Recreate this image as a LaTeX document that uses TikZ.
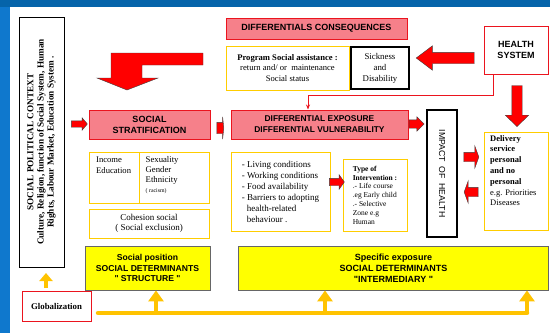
\documentclass[tikz,border=0pt]{standalone}
\usepackage{fontspec}
\setmainfont{Liberation Serif}
\newfontfamily\arialfont{Liberation Sans}
\usetikzlibrary{shapes.arrows,arrows.meta}

\definecolor{frametop}{RGB}{5,100,170}
\definecolor{frameleft}{RGB}{15,120,205}
\definecolor{boxpink}{RGB}{246,128,138}
\definecolor{boxred}{RGB}{235,20,30}
\definecolor{boxgold}{RGB}{255,205,0}
\definecolor{boxyellow}{RGB}{255,255,0}
\definecolor{arrowgold}{RGB}{255,195,0}

\begin{document}
\begin{tikzpicture}[x=1pt,y=-1pt,
    redbox/.style={draw=boxred,fill=boxpink,line width=1pt,inner sep=0pt,align=center,
        font=\arialfont\bfseries\fontsize{9}{11}\selectfont},
    goldbox/.style={draw=boxgold,fill=white,line width=1pt,inner sep=0pt,align=center},
    blackbox/.style={draw=black,fill=white,line width=2.5pt,inner sep=0pt,align=center},
    yellowbox/.style={draw=black!60,fill=boxyellow,line width=0.8pt,inner sep=0pt,align=center,
        font=\arialfont\bfseries\fontsize{8.6}{10.5}\selectfont},
    redarrow/.style={single arrow,draw=black!75,fill=red,line width=0.4pt,inner xsep=0pt,
        single arrow head indent=0pt},
    goldline/.style={draw=arrowgold,line width=4.5pt},
    goldarrow/.style={goldline,-{Triangle[width=15pt,length=11pt]}},
]
    \useasboundingbox (0,0) rectangle (550,333);
    % blue frame
    \fill[frameleft] (0,0) rectangle (10,333);
    \fill[frametop] (0,0) rectangle (550,7);

    \begin{scope}[every node/.style={minimum width=0pt,minimum height=0pt}]
        \node[draw=black,line width=0.6pt,minimum width=45pt,minimum height=250pt,inner sep=0pt] (ctx) at (41.5,142) {};
        \node[rotate=90,align=center,font=\bfseries\fontsize{9.2}{10.2}\selectfont] (ctxtxt) at (ctx.center)
            {SOCIAL POLITICAL CONTEXT\\Culture, Religion, function of Social System, Human\\Rights, Labour Market, Education System .};
        \node[draw=boxred,line width=1pt,minimum width=69pt,minimum height=30pt,font=\bfseries\fontsize{8.8}{10}\selectfont] (glob) at (56.5,306) {Globalization};

        \node[redbox,minimum width=181pt,minimum height=21pt] (conseq) at (316.5,28.5) {DIFFERENTIALS CONSEQUENCES};
        \node[goldbox,minimum width=123pt,minimum height=44pt,font=\fontsize{8.6}{10.3}\selectfont] (prog) at (287.5,68)
            {\textbf{Program Social assistance\ :}\\return and/ or\ \ maintenance\\Social status};
        \node[blackbox,minimum width=58pt,minimum height=42pt,font=\fontsize{8.8}{11}\selectfont] (sick) at (380,68) {Sickness\\and\\Disability};
        \node[draw=boxred,fill=white,line width=1pt,minimum width=64pt,minimum height=48pt,align=center,
            font=\arialfont\bfseries\fontsize{9}{11.5}\selectfont] (health) at (516,50) {HEALTH\\SYSTEM};

        \node[redbox,minimum width=121pt,minimum height=29pt] (strat) at (149.5,124.5) {SOCIAL\\STRATIFICATION};
        \node[redbox,minimum width=177pt,minimum height=29pt,font=\arialfont\bfseries\fontsize{8.4}{11}\selectfont] (diffexp) at (319.5,124.5)
            {DIFFERENTIAL EXPOSURE\\DIFFERENTIAL VULNERABILITY};
        \node[blackbox,minimum width=30pt,minimum height=127pt] (impact) at (442,173.5) {};
        \node[rotate=-90,font=\arialfont\fontsize{8.7}{10}\selectfont] (impacttxt) at (impact.center) {IMPACT\ \ OF\ \ HEALTH};

        \node[goldbox,minimum width=50pt,minimum height=51pt] (income) at (114,177.5) {};
        \node[align=left,inner sep=0pt,anchor=north west,font=\fontsize{8.6}{10.5}\selectfont] (incometxt) at (96,157)
            {Income\\Education};
        \node[goldbox,minimum width=70pt,minimum height=51pt] (sexuality) at (174,177.5) {};
        \node[align=left,inner sep=0pt,anchor=north west,font=\fontsize{8.7}{10}\selectfont] (sexualitytxt) at (145.5,156)
            {Sexuality\\Gender\\Ethnicity\\{\fontsize{5.8}{7}\selectfont( racism)}};
        \node[goldbox,minimum width=120pt,minimum height=29pt,font=\fontsize{9}{10.5}\selectfont] (cohesion) at (149,223.5) {Cohesion social\\( Social exclusion)};

        \node[goldbox,minimum width=99pt,minimum height=79pt,align=left,font=\fontsize{9}{11}\selectfont] (living) at (280.5,191.5)
            {- Living conditions\\- Working conditions\\- Food availability\\- Barriers to adopting\\\hspace*{5pt}health-related\\\hspace*{5pt}behaviour .};
        \node[goldbox,minimum width=64pt,minimum height=72pt,align=left,font=\fontsize{7.5}{8.8}\selectfont] (typeint) at (375,195)
            {\textbf{Type of}\\\textbf{Intervention :}\\.- Life course\\.eg Early child\\.- Selective\\Zone e.g\\Human};
        \node[goldbox,minimum width=64pt,minimum height=98pt] (delivery) at (516,181) {};
        \node[align=left,inner sep=0pt,anchor=north west,font=\fontsize{8.5}{10.8}\selectfont] (deliverytxt) at (490,135)
            {\textbf{Delivery}\\\textbf{service}\\\textbf{personal}\\\textbf{and no}\\\textbf{personal}\\e.g. Priorities\\Diseases};

        \node[yellowbox,minimum width=125pt,minimum height=44pt] (socpos) at (147.5,268)
            {Social position\\SOCIAL DETERMINANTS\\" STRUCTURE "};
        \node[yellowbox,minimum width=310pt,minimum height=44pt,font=\arialfont\bfseries\fontsize{9}{11}\selectfont] (specexp) at (393.5,268)
            {Specific exposure\\SOCIAL DETERMINANTS\\"INTERMEDIARY "};
    \end{scope}

    % block arrows
    \begin{scope}[every node/.style={redarrow}]
        \node[minimum height=58pt,inner ysep=5.5pt,single arrow head extend=6.5pt,single arrow tip angle=74,rotate=180] (hsarrow) at (449,58) {};
        \node[minimum height=41pt,inner ysep=5pt,single arrow head extend=6.5pt,single arrow tip angle=92,rotate=-90] (downarrow) at (517,103.5) {};
        \node[minimum height=16pt,inner ysep=3pt,single arrow head extend=3pt,single arrow tip angle=100] (ctxarrow) at (78,124) {};
        \node[minimum height=7pt,inner ysep=5.5pt,single arrow head extend=5.5pt,single arrow tip angle=168] (stratarrow) at (220,128) {};
        \node[minimum height=15pt,inner ysep=4pt,single arrow head extend=3pt,single arrow tip angle=90] (exparrow) at (414.5,124) {};
        \node[minimum height=15pt,inner ysep=4.5pt,single arrow head extend=6.5pt,single arrow tip angle=140] (imparrow) at (470.5,157) {};
        \node[minimum height=14pt,inner ysep=4.5pt,single arrow head extend=6.5pt,single arrow tip angle=140,rotate=180] (delarrow) at (472,192) {};
        \node[minimum height=15pt,inner ysep=3.5pt,single arrow head extend=3.5pt,single arrow tip angle=109] (livarrow) at (335.5,182) {};
    \end{scope}

    % bent arrow to the stratification
    \draw[fill=red,draw=black!75,line width=0.4pt] (203,53) -- (203,65) -- (142,65) -- (142,78) -- (158,78)
        -- (127,90) -- (97,78) -- (111,78) -- (111,53) -- cycle;

    % thin line from the health system
    \coordinate (hsA) at (493,95);
    \coordinate (hsB) at (308,95);
    \draw[boxred,line width=1pt,-{Stealth[length=5pt,width=4pt]}] (health.south -| hsA) -- (hsA) -- (hsB) -- (diffexp.north -| hsB);

    % globalization
    \coordinate (gA) at (46,288);
    \coordinate (gB) at (46,273);
    \draw[draw=arrowgold,line width=4pt,-{Triangle[width=13pt,length=8pt]}] (gA) -- (gB);
    \coordinate (ystart) at (98,313);
    \coordinate (yA) at (156,313);
    \coordinate (yB) at (325,313);
    \coordinate (yC) at (527,313);
    \draw[goldline,line cap=round] (ystart) -- (yC);
    \draw[goldarrow] (yA) -- (socpos.south -| yA);
    \draw[goldarrow] (yB) -- (specexp.south -| yB);
    \draw[goldarrow] (yC) -- (specexp.south -| yC);
\end{tikzpicture}
\end{document}
